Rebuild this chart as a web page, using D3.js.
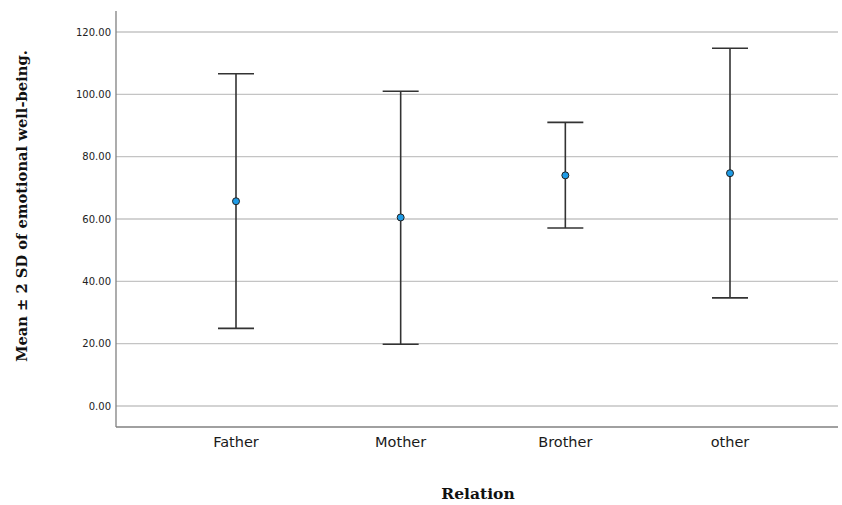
<!DOCTYPE html>
<html><head><meta charset="utf-8">
<script src="https://cdn.jsdelivr.net/npm/d3@7"></script>
<style>body{margin:0;background:#fff}</style>
</head><body>
<svg id="c" width="842" height="505"></svg>
<script>
const categories = ["Father","Mother","Brother","other"];
const means = [65.7, 60.5, 74.0, 74.7];
const upper = [106.6, 101.0, 91.0, 114.8];
const lower = [24.9, 19.8, 57.1, 34.7];
const yTicks = [0,20,40,60,80,100,120];

(function(){
const svg = d3.select("#c");
const pLeft = 116, pRight = 838, pTop = 11, pBottom = 427;
const y = d3.scaleLinear().domain([0,120]).range([406,32]);
const x = d3.scalePoint().domain(categories).range([236,730]);

// gridlines
svg.append("g").selectAll("line").data(yTicks).join("line")
  .attr("x1",pLeft).attr("x2",pRight).attr("y1",d=>y(d)).attr("y2",d=>y(d))
  .attr("stroke","#c4c4c4").attr("stroke-width",1.3);

// axes lines
svg.append("line").attr("x1",pLeft).attr("x2",pLeft).attr("y1",pTop).attr("y2",pBottom)
  .attr("stroke","#808080").attr("stroke-width",1.3);
svg.append("line").attr("x1",pLeft).attr("x2",pRight).attr("y1",pBottom).attr("y2",pBottom)
  .attr("stroke","#808080").attr("stroke-width",1.3);

// y tick labels
svg.append("g").selectAll("text").data(yTicks).join("text")
  .attr("x",111).attr("y",d=>y(d)).attr("dy","0.35em").attr("text-anchor","end")
  .attr("font-family","DejaVu Sans").attr("font-size",10).attr("fill","#222")
  .text(d=>d3.format(".2f")(d));

// x labels
svg.append("g").selectAll("text").data(categories).join("text")
  .attr("x",d=>x(d)).attr("y",447).attr("text-anchor","middle")
  .attr("font-family","DejaVu Sans").attr("font-size",14.5).attr("fill","#1a1a1a")
  .text(d=>d);

// error bars
const g = svg.append("g");
const cap = 18;
categories.forEach((c,i)=>{
  const cx = x(c);
  g.append("line").attr("x1",cx).attr("x2",cx).attr("y1",y(upper[i])).attr("y2",y(lower[i]))
    .attr("stroke","#333").attr("stroke-width",1.6);
  g.append("line").attr("x1",cx-cap).attr("x2",cx+cap).attr("y1",y(upper[i])).attr("y2",y(upper[i]))
    .attr("stroke","#333").attr("stroke-width",1.6);
  g.append("line").attr("x1",cx-cap).attr("x2",cx+cap).attr("y1",y(lower[i])).attr("y2",y(lower[i]))
    .attr("stroke","#333").attr("stroke-width",1.6);
  g.append("circle").attr("cx",cx).attr("cy",y(means[i])).attr("r",3.5)
    .attr("fill","#1e9be6").attr("stroke","#222").attr("stroke-width",1);
});

// titles
svg.append("text").attr("transform","translate(27,206) rotate(-90)")
  .attr("text-anchor","middle").attr("font-family","DejaVu Serif").attr("font-weight","bold")
  .attr("font-size",14.7).attr("fill","#111").text("Mean ± 2 SD of emotional well-being.");
svg.append("text").attr("x",478).attr("y",499).attr("text-anchor","middle")
  .attr("font-family","DejaVu Serif").attr("font-weight","bold")
  .attr("font-size",15.5).attr("fill","#111").text("Relation");
})();
</script>
</body></html>
